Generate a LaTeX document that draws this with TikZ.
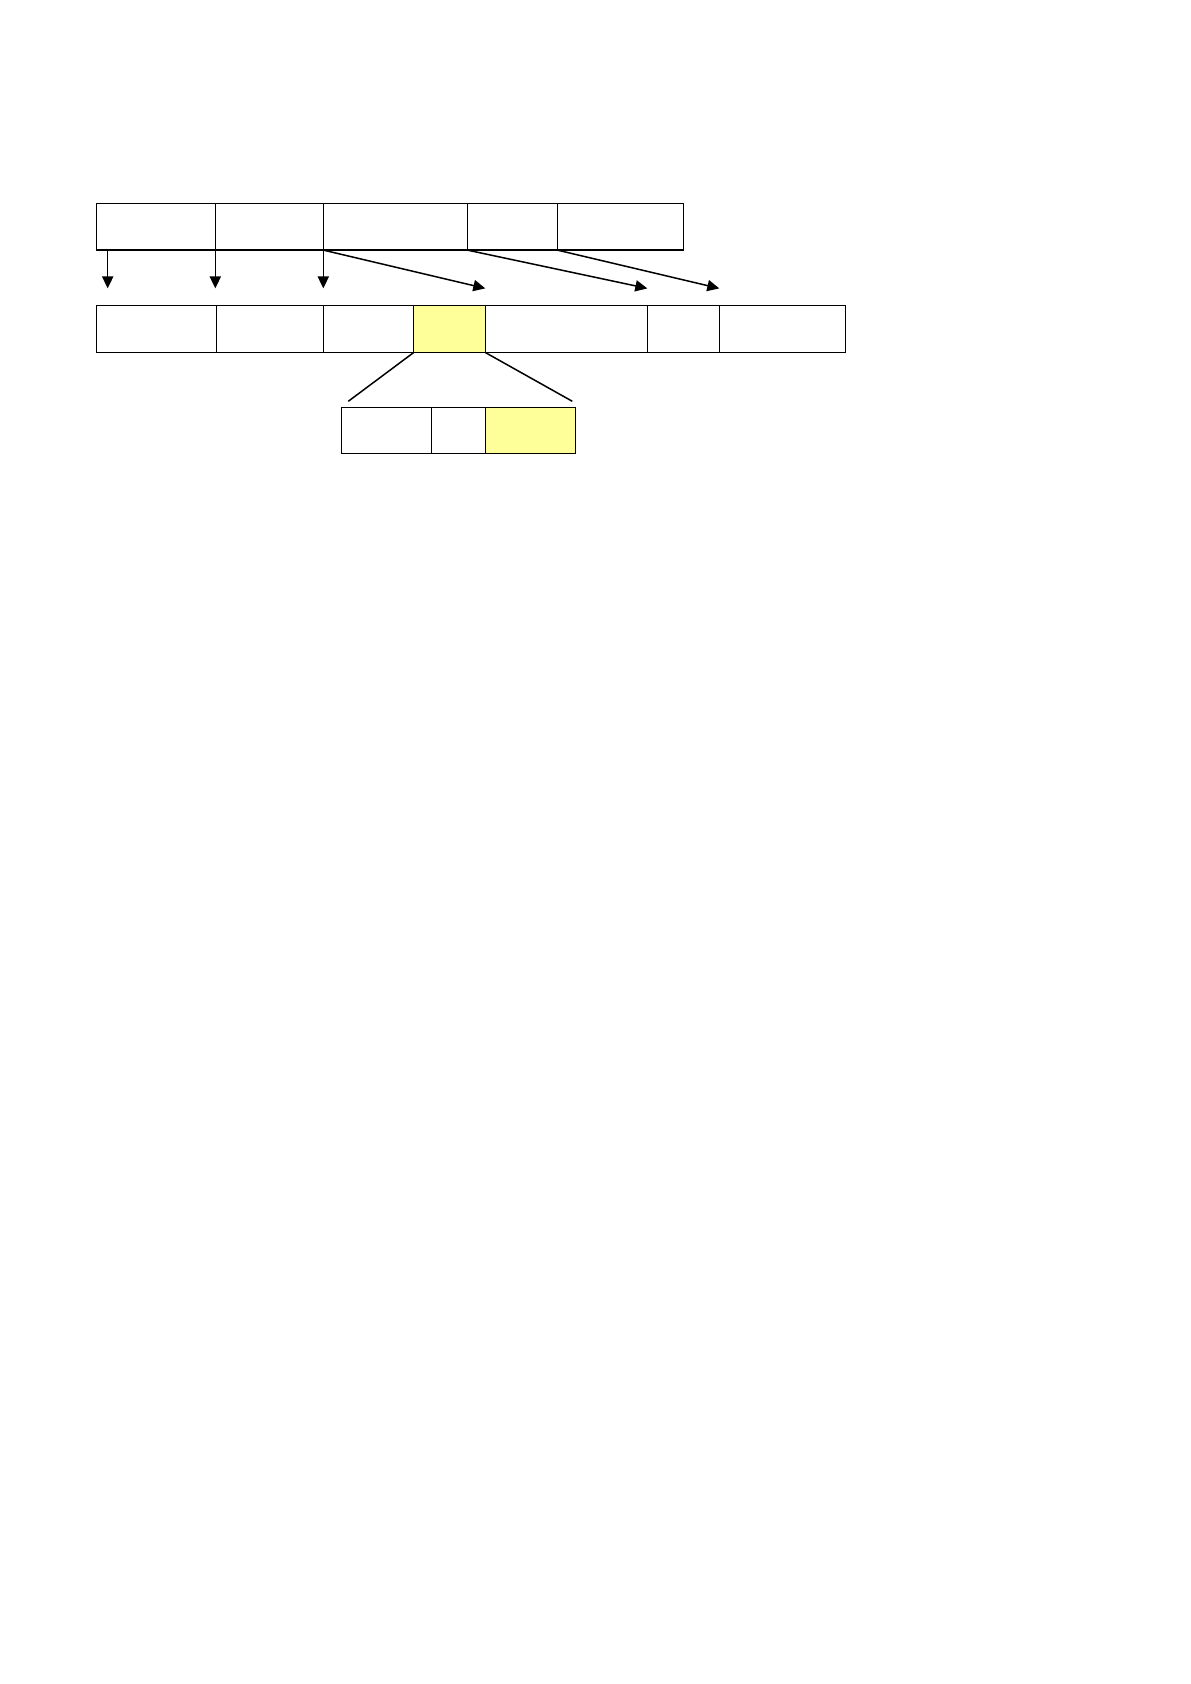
\documentclass[tikz,border=0pt]{standalone}
\usepackage{xcolor}
\usepackage{tikz}
\usetikzlibrary{
  arrows.meta,
  positioning
}
\definecolor{markcolor}{HTML}{FFFF99}

\begin{document}
\begin{tikzpicture}[
  x=1pt, y=1pt,
  cell/.style={draw, line width=0.75pt, inner sep=0pt, outer sep=0pt,
               minimum height=23.4pt},
  hot/.style={cell, fill=markcolor},
  ptr/.style={-{Triangle[length=6pt, width=5.6pt]}, line width=0.75pt},
  zoomline/.style={line width=0.75pt},
]
  \useasboundingbox (0,0) rectangle (595,-842);

  % top row
  \node[cell, minimum width=59.5pt, anchor=north west] (t1) at (48.15,-101.65) {};
  \node[cell, minimum width=54pt, right=0pt of t1] (t2) {};
  \node[cell, minimum width=72pt, right=0pt of t2] (t3) {};
  \node[cell, minimum width=45pt, right=0pt of t3] (t4) {};
  \node[cell, minimum width=63.2pt, right=0pt of t4] (t5) {};

  % bottom row
  \node[cell, minimum width=60pt, anchor=north west] (b1) at (48.15,-152.85) {};
  \node[cell, minimum width=53.5pt, right=0pt of b1] (b2) {};
  \node[cell, minimum width=45.2pt, right=0pt of b2] (b3) {};
  \node[hot, minimum width=35.8pt, right=0pt of b3] (b4) {};
  \node[cell, minimum width=81pt, right=0pt of b4] (b5) {};
  \node[cell, minimum width=36pt, right=0pt of b5] (b6) {};
  \node[cell, minimum width=63.2pt, right=0pt of b6] (b7) {};

  % zoomed entry
  \node[cell, minimum width=45pt, minimum height=23pt, anchor=north west] (s1) at (170.65,-203.65) {};
  \node[cell, minimum width=27pt, minimum height=23pt, right=0pt of s1] (s2) {};
  \node[hot, minimum width=45pt, minimum height=23pt, right=0pt of s2] (s3) {};

  \coordinate (tipline) at (0,-144.2);
  \coordinate (zl) at (174.15,-200.65);
  \coordinate (zr) at (286.15,-200.65);

  \draw[ptr] ([xshift=5.7pt]t1.south west) -- ([xshift=5.7pt]t1.south west |- tipline);
  \draw[ptr] (t2.south west) -- (t2.south west |- tipline);
  \draw[ptr] (t3.south west) -- (t3.south west |- tipline);
  \draw[ptr] (t3.south west) -- (b5.north west |- tipline);
  \draw[ptr] (t4.south west) -- (b6.north west |- tipline);
  \draw[ptr] (t5.south west) -- (b7.north west |- tipline);

  \draw[zoomline] (b4.south west) -- (zl);
  \draw[zoomline] (b4.south east) -- (zr);
\end{tikzpicture}
\end{document}
